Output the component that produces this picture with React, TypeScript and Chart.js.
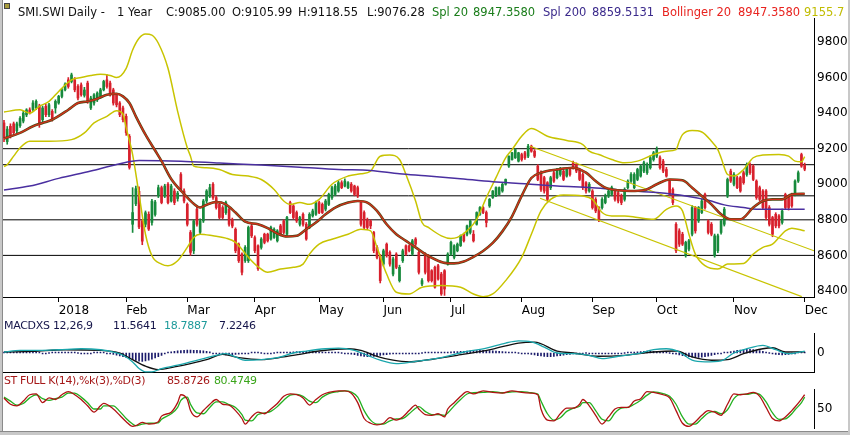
import React, { useEffect, useRef } from "react";
import Chart from "chart.js/auto";

const FONT = '"DejaVu Sans", "Noto Sans", sans-serif';
Chart.defaults.font.family = FONT;
Chart.defaults.font.size = 12;
Chart.defaults.color = "#000";

// bar index range shown on every panel (Dec 2017 .. 3 Dec 2018)
const X_MIN = -0.31;
const X_MAX = 251.9;

const GREEN = "#178a3c";
const RED = "#d8202c";
const YELLOW = "#c8c400";

// ---- daily candles ----
const opens = [
  9345, 9240, 9326, 9340, 9300, 9330, 9355, 9390, 9418, 9420,
  9430, 9440, 9363, 9438, 9391, 9410, 9429, 9457, 9494, 9531,
  9587, 9578, 9587, 9550, 9559, 9500, 9569, 9429, 9457, 9475,
  9494, 9531, 9587, 9569, 9531, 9503, 9457, 9429, 9382, 9270,
  8775, 8890, 8960, 8794, 8775, 8831, 8785, 8830, 8935, 8981,
  8934, 9000, 8906, 8962, 8920, 9055, 8962, 8887, 8729, 8626,
  8860, 8730, 8794, 8906, 8934, 9000, 8925, 8887, 8869, 8840,
  8860, 8800, 8747, 8663, 8607, 8570, 8570, 8766, 8700, 8654,
  8645, 8719, 8719, 8692, 8701, 8682, 8766, 8794, 8719, 8897,
  8878, 8841, 8775, 8831, 8775, 8757, 8822, 8831, 8897, 8887,
  8860, 8887, 8925, 8943, 8962, 9009, 8990, 8981, 9000, 8990,
  8981, 8897, 8841, 8800, 8794, 8729, 8645, 8598, 8551, 8663,
  8617, 8495, 8607, 8458, 8570, 8654, 8654, 8607, 8692, 8617,
  8439, 8607, 8598, 8514, 8533, 8542, 8495, 8514, 8551, 8607,
  8589, 8626, 8655, 8719, 8719, 8729, 8719, 8775, 8831, 8869,
  8841, 8878, 8925, 8934, 8943, 8962, 9000, 9102, 9139, 9149,
  9130, 9167, 9177, 9158, 9214, 9186, 9102, 9065, 9037, 9009,
  8981, 9065, 9037, 9055, 9074, 9046, 9083, 9121, 9111, 9083,
  9055, 9009, 8962, 8962, 8915, 8869, 8869, 8897, 8934, 8943,
  8962, 8953, 8934, 8915, 8981, 9018, 8981, 9027, 9046, 9074,
  9065, 9093, 9139, 9158, 9149, 9130, 9083, 9018, 8971, 8775,
  8738, 8719, 8598, 8635, 8719, 8869, 8794, 8841, 8943, 8794,
  8775, 8598, 8626, 8729, 8775, 8934, 9074, 9000, 9037, 9037,
  9065, 9055, 9111, 9102, 9018, 8981, 8962, 8962, 8869, 8813,
  8831, 8822, 8785, 8943, 8934, 8943, 8943, 9018, 9167, 9106,
];
const highs = [
  9360, 9325, 9340, 9350, 9350, 9380, 9410, 9425, 9430, 9470,
  9475, 9450, 9440, 9450, 9455, 9420, 9475, 9500, 9540, 9570,
  9600, 9625, 9600, 9560, 9570, 9545, 9580, 9495, 9510, 9520,
  9540, 9585, 9617, 9580, 9540, 9510, 9465, 9440, 9395, 9280,
  8981, 8990, 8985, 8800, 8850, 8845, 8915, 8910, 8995, 8990,
  9000, 9010, 9000, 8975, 8960, 9065, 8975, 8895, 8740, 8800,
  8870, 8805, 8915, 8970, 9000, 9010, 8935, 8895, 8880, 8905,
  8870, 8810, 8755, 8670, 8615, 8655, 8765, 8775, 8710, 8660,
  8700, 8725, 8725, 8765, 8755, 8745, 8775, 8800, 8820, 8905,
  8885, 8850, 8820, 8840, 8785, 8840, 8860, 8905, 8905, 8895,
  8915, 8950, 8990, 9000, 9020, 9020, 9030, 9015, 9010, 8995,
  8990, 8905, 8850, 8810, 8800, 8735, 8655, 8605, 8635, 8670,
  8625, 8590, 8615, 8545, 8635, 8660, 8660, 8690, 8700, 8625,
  8470, 8615, 8605, 8520, 8540, 8550, 8505, 8520, 8615, 8680,
  8660, 8670, 8715, 8725, 8770, 8800, 8740, 8845, 8875, 8875,
  8850, 8920, 8965, 8985, 8985, 9005, 9030, 9160, 9180, 9200,
  9180, 9175, 9185, 9225, 9220, 9195, 9110, 9075, 9045, 9015,
  9045, 9075, 9090, 9095, 9085, 9090, 9095, 9130, 9120, 9090,
  9065, 9015, 9010, 8970, 8925, 8875, 8925, 8945, 8970, 8990,
  8970, 8960, 8945, 8980, 9025, 9065, 9065, 9090, 9110, 9130,
  9120, 9160, 9185, 9210, 9160, 9140, 9095, 9025, 8980, 8785,
  8750, 8730, 8680, 8690, 8880, 8875, 8875, 8915, 8950, 8800,
  8785, 8720, 8720, 8800, 8870, 9035, 9085, 9065, 9045, 9045,
  9075, 9120, 9120, 9110, 9025, 8990, 8970, 8970, 8880, 8820,
  8840, 8830, 8860, 8950, 8940, 8950, 9025, 9075, 9175, 9119,
];
const lows = [
  9240, 9225, 9260, 9280, 9290, 9320, 9345, 9380, 9395, 9410,
  9420, 9320, 9350, 9380, 9380, 9355, 9400, 9450, 9485, 9525,
  9540, 9570, 9520, 9475, 9495, 9490, 9455, 9420, 9445, 9465,
  9485, 9525, 9540, 9495, 9445, 9435, 9380, 9350, 9275, 9085,
  8729, 8880, 8750, 8660, 8760, 8740, 8770, 8820, 8925, 8890,
  8925, 8890, 8900, 8885, 8905, 8960, 8895, 8765, 8600, 8610,
  8765, 8720, 8785, 8895, 8925, 8915, 8860, 8805, 8805, 8830,
  8765, 8755, 8615, 8560, 8490, 8560, 8560, 8700, 8615, 8515,
  8635, 8665, 8675, 8685, 8695, 8675, 8710, 8720, 8710, 8835,
  8805, 8785, 8765, 8765, 8685, 8750, 8815, 8825, 8835, 8835,
  8850, 8880, 8915, 8935, 8955, 8975, 8985, 8975, 8955, 8935,
  8925, 8765, 8750, 8745, 8750, 8615, 8580, 8445, 8540, 8590,
  8540, 8485, 8525, 8450, 8560, 8600, 8620, 8600, 8655, 8495,
  8430, 8495, 8450, 8450, 8415, 8460, 8375, 8375, 8545, 8600,
  8580, 8620, 8650, 8675, 8710, 8720, 8675, 8770, 8825, 8835,
  8760, 8870, 8920, 8930, 8940, 8955, 8995, 9095, 9135, 9145,
  9125, 9130, 9140, 9150, 9180, 9150, 9020, 8960, 8950, 8905,
  8970, 9010, 9030, 9045, 9020, 9040, 9045, 9085, 9065, 9020,
  8970, 8950, 8955, 8860, 8840, 8790, 8860, 8890, 8925, 8935,
  8905, 8895, 8885, 8905, 8975, 9010, 8975, 9020, 9040, 9065,
  9055, 9085, 9130, 9150, 9085, 9065, 9040, 8935, 8885, 8615,
  8650, 8655, 8590, 8625, 8710, 8725, 8785, 8835, 8860, 8720,
  8710, 8590, 8615, 8720, 8765, 8925, 9010, 8990, 8975, 8955,
  9000, 9045, 9055, 9020, 8915, 8905, 8860, 8800, 8765, 8705,
  8755, 8755, 8775, 8860, 8855, 8870, 8935, 9010, 9095, 9076,
];
const closes = [
  9261, 9310, 9270, 9290, 9340, 9370, 9400, 9418, 9405, 9457,
  9466, 9335, 9429, 9391, 9447, 9363, 9466, 9494, 9531, 9563,
  9550, 9615, 9531, 9485, 9503, 9530, 9466, 9485, 9503, 9513,
  9531, 9578, 9550, 9503, 9457, 9447, 9391, 9363, 9289, 9095,
  8841, 8975, 8760, 8680, 8840, 8748, 8905, 8900, 8981, 8897,
  8990, 8897, 8990, 8897, 8950, 8971, 8906, 8775, 8617, 8794,
  8775, 8794, 8906, 8962, 8981, 8925, 8869, 8813, 8813, 8897,
  8775, 8765, 8626, 8570, 8505, 8645, 8757, 8710, 8626, 8525,
  8692, 8673, 8682, 8757, 8747, 8738, 8719, 8729, 8813, 8841,
  8813, 8794, 8813, 8775, 8692, 8831, 8850, 8897, 8841, 8841,
  8906, 8943, 8981, 8990, 9009, 8981, 9018, 9009, 8962, 8943,
  8934, 8775, 8757, 8757, 8766, 8626, 8589, 8458, 8626, 8598,
  8551, 8580, 8533, 8533, 8626, 8607, 8626, 8682, 8663, 8505,
  8458, 8505, 8458, 8458, 8421, 8467, 8383, 8411, 8607, 8673,
  8654, 8663, 8710, 8682, 8766, 8794, 8682, 8841, 8869, 8841,
  8785, 8915, 8962, 8981, 8981, 9000, 9027, 9158, 9177, 9195,
  9177, 9139, 9149, 9214, 9186, 9158, 9027, 8971, 8962, 8915,
  9037, 9018, 9083, 9083, 9027, 9083, 9055, 9093, 9074, 9027,
  8981, 8962, 9000, 8869, 8850, 8803, 8915, 8934, 8962, 8981,
  8915, 8906, 8897, 8971, 9018, 9055, 9055, 9083, 9102, 9121,
  9111, 9149, 9177, 9195, 9093, 9074, 9046, 8943, 8897, 8626,
  8663, 8663, 8673, 8682, 8869, 8738, 8869, 8906, 8869, 8729,
  8719, 8710, 8710, 8794, 8860, 9027, 9018, 9055, 8981, 8962,
  9009, 9111, 9065, 9027, 8925, 8915, 8869, 8813, 8775, 8719,
  8766, 8766, 8850, 8869, 8869, 8878, 9018, 9065, 9102, 9085,
];

// ---- axis ticks ----
const monthTickIdx = [17, 38, 57, 78, 98, 118, 139, 161, 183, 203, 227, 249];
const monthLabels = ["2018", "Feb", "Mar", "Apr", "May", "Jun", "Jul", "Aug", "Sep", "Oct", "Nov", "Dec"];
const priceTicks = [8400, 8600, 8800, 9000, 9200, 9400, 9600, 9800];
const macdTicks = [0];
const stochTicks = [50];

// ---- drawn support / resistance lines and the down channel ----
const levelLines = [9200, 9110, 8935, 8800, 8600];
const channelUpper = [
  { x: 163.6, y: 9214 },
  { x: 251.9, y: 8626 },
];
const channelLower = [
  { x: 166.7, y: 8921 },
  { x: 248.1, y: 8368 },
];

// ---- overlays ----
const sma20Idx = [0, 5, 9, 12, 15, 20, 23, 26, 29, 32, 35, 37, 39, 41, 44, 47, 49, 52, 56, 59, 61, 63, 66, 69, 72, 75, 79, 82, 85, 88, 91, 94, 97, 100, 103, 107, 110, 113, 116, 119, 122, 125, 128, 131, 134, 137, 140, 143, 146, 149, 152, 155, 158, 161, 164, 167, 172, 177, 181, 184, 187, 191, 195, 199, 203, 207, 211, 214, 217, 220, 223, 226, 229, 233, 236, 239, 242, 245, 249];
const sma20Val = [9257, 9289, 9326, 9345, 9363, 9419, 9457, 9466, 9481, 9503, 9509, 9494, 9457, 9382, 9279, 9190, 9130, 9030, 8945, 8890, 8869, 8885, 8900, 8887, 8841, 8790, 8775, 8753, 8723, 8706, 8710, 8747, 8785, 8831, 8869, 8897, 8906, 8897, 8850, 8775, 8719, 8682, 8645, 8607, 8578, 8558, 8555, 8566, 8592, 8625, 8670, 8735, 8820, 8935, 9035, 9065, 9083, 9093, 9065, 9018, 8981, 8966, 8962, 8966, 9000, 9027, 9022, 8981, 8934, 8887, 8831, 8803, 8803, 8869, 8906, 8915, 8915, 8943, 8947];

const bbUpIdx = [0, 5, 8, 11, 14, 17, 21, 24, 27, 30, 33, 35, 38, 40, 42, 44, 46, 48, 51, 54, 57, 58, 59, 63, 67, 71, 76, 80, 84, 87, 89, 92, 95, 98, 102, 107, 111, 114, 117, 120, 123, 125, 128, 130, 132, 136, 139, 141, 144, 147, 150, 153, 156, 158, 161, 164, 169, 175, 180, 182, 185, 189, 193, 197, 202, 206, 209, 210, 211, 214, 217, 220, 222, 223, 225, 227, 230, 233, 236, 241, 244, 246, 248, 249];
const bbUpVal = [9406, 9419, 9400, 9438, 9466, 9522, 9587, 9600, 9612, 9619, 9612, 9600, 9652, 9755, 9821, 9845, 9839, 9793, 9652, 9410, 9205, 9158, 9102, 9093, 9083, 9055, 9046, 9027, 8971, 8906, 8887, 8897, 8887, 8915, 9000, 9046, 9059, 9074, 9158, 9164, 9139, 9055, 8906, 8785, 8757, 8710, 8695, 8701, 8738, 8803, 8925, 9037, 9149, 9195, 9270, 9313, 9270, 9246, 9223, 9186, 9167, 9139, 9121, 9130, 9167, 9186, 9195, 9242, 9279, 9302, 9294, 9242, 9195, 9149, 9055, 9046, 9083, 9149, 9164, 9167, 9158, 9130, 9126, 9156];

const bbLoIdx = [0, 1, 3, 5, 8, 14, 21, 25, 28, 32, 35, 37, 38, 40, 42, 44, 46, 49, 51, 54, 57, 59, 61, 65, 69, 72, 76, 79, 82, 86, 90, 93, 95, 98, 102, 107, 111, 114, 116, 119, 122, 126, 130, 136, 142, 146, 149, 152, 156, 161, 164, 167, 170, 174, 180, 183, 186, 189, 193, 197, 202, 206, 209, 211, 213, 215, 218, 222, 225, 230, 233, 236, 239, 241, 243, 245, 249];
const bbLoVal = [9100, 9110, 9158, 9205, 9242, 9242, 9251, 9289, 9345, 9382, 9414, 9395, 9317, 9167, 8943, 8719, 8598, 8551, 8542, 8570, 8645, 8701, 8719, 8710, 8697, 8673, 8589, 8536, 8505, 8523, 8533, 8551, 8607, 8663, 8691, 8719, 8747, 8738, 8645, 8495, 8393, 8383, 8421, 8430, 8421, 8383, 8368, 8383, 8458, 8589, 8719, 8850, 8915, 8940, 8934, 8915, 8841, 8822, 8822, 8813, 8803, 8859, 8878, 8850, 8719, 8607, 8542, 8523, 8551, 8555, 8607, 8645, 8663, 8701, 8738, 8753, 8738];

const sma200Idx = [0, 8, 17, 27, 35, 42, 55, 67, 80, 92, 104, 114, 123, 131, 141, 152, 162, 172, 183, 193, 203, 212, 219, 224, 230, 234, 240, 249];
const sma200Val = [8968, 8990, 9033, 9074, 9111, 9134, 9130, 9119, 9108, 9096, 9083, 9078, 9059, 9048, 9033, 9014, 9003, 8990, 8981, 8966, 8953, 8934, 8910, 8884, 8869, 8859, 8859, 8859];

// ---- MACD 12,26,9 (panel units) ----
const macdIdx = [0, 5, 11, 17, 24, 30, 34, 37, 40, 42, 44, 46, 49, 54, 58, 62, 66, 69, 72, 75, 80, 85, 90, 94, 100, 104, 109, 113, 117, 122, 127, 131, 137, 143, 150, 156, 160, 164, 168, 172, 177, 182, 186, 191, 197, 202, 206, 210, 214, 218, 223, 227, 231, 236, 240, 244, 249];
const macdVal = [10, 27, 27, 33, 43, 33, 10, -23, -90, -157, -190, -190, -157, -123, -90, -57, -23, -7, -40, -73, -67, -47, 0, 20, 43, 50, 27, -23, -73, -107, -90, -73, -40, 10, 50, 100, 122, 112, 60, 0, -7, -23, -57, -33, -7, 33, 43, 10, -73, -90, -80, 0, 43, 77, 33, -7, 19];
const signalIdx = [0, 9, 19, 30, 36, 40, 44, 48, 53, 58, 63, 68, 73, 80, 87, 92, 98, 107, 111, 116, 121, 126, 131, 141, 152, 160, 165, 172, 177, 185, 193, 202, 209, 214, 220, 225, 230, 236, 239, 243, 249];
const signalVal = [10, 17, 33, 27, 0, -67, -133, -167, -140, -107, -67, -13, -47, -67, -40, -13, 20, 43, 27, -33, -73, -90, -73, -23, 40, 100, 110, 20, 0, -33, -23, 10, 20, -40, -73, -67, -7, 43, 53, 10, 12];
const macdHist = [
  5, 8, 6, 4, 3, 5, 7, 9, 8, 6, 4,
  2, -2, -3, 0, 3, 6, 8, 10, 9, 7,
  5, 3, 0, -3, -5, -4, -2, 2, 4, 5, 3, -2, -8,
  -15, -22, -30, -38, -45, -55, -65, -75, -82, -85, -80, -72, -62, -50, -38, -25,
  -10, 5, 12, 18, 22, 25, 28, 30, 30, 28, 26, 25, 22, 18, 12,
  -5, -10, -14, -18, -20, -20, -18, -15, -12, -9, -6, -3,
  2, 3, 2, 0, -2, -3, -2, 0, 2, 4, 6, 8, 10,
  12, 14, 15, 16, 16, 15, 14, 12, 10, 8, 6,
  5, 4, 3, 2, 0, -3, -6,
  -12, -18, -24, -30, -35, -38, -38, -35, -30, -25, -20,
  -16, -12, -10, -8, -6, -5, -4, -3, -2, -2, -1, 0, 2,
  3, 4, 5, 5, 6, 8, 10, 12, 14, 15, 16, 18, 20, 22,
  24, 25, 26, 26, 25, 24, 22, 20, 18, 15, 12, 8,
  5, 2, 0, -3, -6, -10, -14,
  -20, -26, -30, -34, -36, -36, -34, -30, -26, -22, -18, -14, -10,
  -7, -4, -2, 0, -2, -4, -6, -8, -10,
  -10, -9, -8, -6, -4, -2, 0, 3, 6, 9, 12,
  15, 18, 20, 20, 18, 15, 12, 8, 4, 0, -5,
  -12, -20, -28, -34, -38, -42, -45, -45, -42, -38, -32, -25, -18, -10,
  -4, 2, 8, 14,
  20, 26, 30, 34, 36, 36, 34, 30, 24, 16, 8, 0,
  -8, -14, -18, -20, -18, -14, -10,
  -4, 2, 5, 7,
];

// ---- stochastic full 14,3,3 ----
const stochIdx = [0, 2, 4, 6, 8, 10, 12, 14, 16, 18, 20, 22, 24, 26, 28, 30, 31, 34, 36, 38, 40, 41, 43, 45, 48, 49, 52, 54, 55, 57, 58, 60, 62, 64, 66, 68, 70, 72, 74, 75, 77, 79, 81, 83, 85, 87, 89, 91, 93, 95, 97, 99, 101, 104, 106, 108, 110, 112, 114, 116, 118, 120, 122, 124, 126, 128, 129, 131, 133, 135, 137, 138, 140, 142, 144, 146, 149, 152, 155, 158, 161, 164, 166, 167, 169, 171, 173, 175, 177, 179, 180, 182, 184, 186, 188, 190, 192, 194, 196, 198, 200, 202, 205, 207, 209, 211, 213, 215, 217, 219, 221, 223, 225, 227, 229, 231, 233, 235, 237, 239, 241, 243, 245, 246, 248, 249];
const stochK = [78, 62, 58, 70, 86, 88, 66, 78, 74, 86, 94, 86, 74, 58, 42, 58, 64, 50, 34, 18, 6, 8, 16, 12, 18, 32, 42, 66, 86, 74, 46, 30, 46, 62, 74, 62, 60, 46, 26, 12, 30, 42, 38, 50, 64, 82, 88, 86, 78, 60, 74, 86, 92, 96, 96, 90, 66, 26, 14, 10, 14, 28, 22, 30, 46, 60, 50, 36, 34, 38, 30, 50, 66, 82, 94, 88, 96, 92, 90, 96, 92, 90, 86, 50, 22, 20, 38, 52, 52, 62, 74, 58, 34, 12, 30, 50, 54, 54, 70, 76, 94, 92, 86, 78, 46, 14, 6, 18, 34, 46, 42, 34, 62, 88, 86, 88, 92, 82, 54, 26, 20, 30, 46, 55, 75, 86];
const stochD = [80, 70, 60, 64, 78, 86, 76, 72, 76, 80, 90, 90, 80, 66, 50, 50, 58, 58, 44, 26, 12, 8, 12, 14, 15, 24, 38, 54, 72, 80, 62, 40, 38, 54, 68, 68, 61, 54, 36, 22, 20, 36, 40, 44, 56, 72, 85, 87, 82, 70, 66, 80, 89, 94, 96, 93, 80, 46, 22, 12, 12, 20, 25, 26, 38, 52, 56, 44, 36, 36, 34, 40, 58, 74, 88, 91, 92, 94, 91, 93, 94, 91, 88, 70, 38, 22, 28, 44, 52, 57, 66, 66, 46, 24, 20, 40, 52, 54, 62, 72, 85, 93, 89, 82, 62, 30, 12, 12, 26, 40, 44, 38, 48, 76, 87, 87, 90, 87, 68, 40, 24, 25, 38, 48, 66, 80];

// ---- header texts ----
const headerParts: [string, number, string][] = [
  ["SMI.SWI Daily -", 18, "#111"],
  ["1 Year", 117, "#111"],
  ["C:9085.00", 166, "#111"],
  ["O:9105.99", 232, "#111"],
  ["H:9118.55", 298, "#111"],
  ["L:9076.28", 367, "#111"],
  ["Spl 20", 432, "#1a7d1a"],
  ["8947.3580", 473, "#1a7d1a"],
  ["Spl 200", 543, "#3b2a8c"],
  ["8859.5131", 592, "#3b2a8c"],
  ["Bollinger 20", 662, "#e8231f"],
  ["8947.3580", 738, "#e8231f"],
  ["9155.7", 804, "#c0bc00"],
];
const macdParts: [string, number, string][] = [
  ["MACDXS 12,26,9", 4, "#15154a"],
  ["11.5641", 113, "#15154a"],
  ["18.7887", 164, "#1d9a9a"],
  ["7.2246", 219, "#15154a"],
];
const stochParts: [string, number, string][] = [
  ["ST FULL K(14),%k(3),%D(3)", 4, "#a51818"],
  ["85.8726", 167, "#a51818"],
  ["80.4749", 214, "#3aa51a"],
];

const pts = (idx: number[], val: number[]) => idx.map((x, k) => ({ x, y: val[k] }));

const line = (data: any[], color: string, width: number, order: number, smooth = true) => ({
  type: "line",
  data,
  borderColor: color,
  borderWidth: width,
  pointRadius: 0,
  pointHoverRadius: 0,
  fill: false,
  tension: 0,
  cubicInterpolationMode: smooth ? "monotone" : "default",
  order,
});

const fixedTicks = (values: number[]) => (axis: any) => {
  axis.ticks = values.map((v) => ({ value: v }));
};

const rightAxis = (min: number, max: number, ticks: number[]) => ({
  type: "linear",
  position: "right",
  min,
  max,
  grid: { display: false, drawTicks: false },
  border: { display: true, color: "#000", width: 1 },
  ticks: { padding: 3, color: "#000", font: { size: 12 }, callback: (v: any) => String(v) },
  afterBuildTicks: fixedTicks(ticks),
  afterFit: (axis: any) => {
    axis.width = 36;
  },
});

const baseOptions = (padTop: number, padBottom: number) => ({
  responsive: false,
  animation: false,
  events: [],
  layout: { padding: { top: padTop, left: 3, right: 0, bottom: padBottom } },
  plugins: { legend: { display: false }, tooltip: { enabled: false }, title: { display: false } },
});

function buildMain(): any {
  const idx = closes.map((_, i) => i);
  const colors = idx.map((i) => (closes[i] >= opens[i] ? GREEN : RED));
  return {
    type: "bar",
    data: {
      datasets: [
        ...levelLines.map((v) =>
          line([{ x: X_MIN, y: v }, { x: X_MAX, y: v }], "#000", 1, 10, false)
        ),
        {
          type: "bar",
          data: idx.map((i) => ({ x: i, y: [lows[i], highs[i]] })),
          backgroundColor: colors,
          barThickness: 1,
          grouped: false,
          order: 6,
        },
        {
          type: "bar",
          data: idx.map((i) => ({ x: i, y: [opens[i], closes[i]] })),
          backgroundColor: colors,
          barThickness: 2,
          minBarLength: 1,
          grouped: false,
          order: 5,
        },
        line(channelUpper, YELLOW, 1.2, 4, false),
        line(channelLower, YELLOW, 1.2, 4, false),
        line(pts(sma200Idx, sma200Val), "#4a2fa0", 1.5, 3),
        line(pts(bbUpIdx, bbUpVal), YELLOW, 1.5, 3),
        line(pts(bbLoIdx, bbLoVal), YELLOW, 1.5, 3),
        line(pts(sma20Idx, sma20Val), "#4a4a14", 2.6, 2),
        line(pts(sma20Idx, sma20Val), "#d0301c", 1.4, 1),
      ],
    },
    options: {
      ...baseOptions(18, 0),
      scales: {
        x: {
          type: "linear",
          min: X_MIN,
          max: X_MAX,
          offset: false,
          grid: { display: true, drawOnChartArea: false, drawTicks: true, tickLength: 5, color: "#000", offset: false },
          border: { display: true, color: "#000", width: 1 },
          ticks: {
            autoSkip: false,
            maxRotation: 0,
            align: "start",
            padding: 2,
            color: "#000",
            font: { size: 12 },
            callback: (_v: any, i: number) => monthLabels[i],
          },
          afterBuildTicks: fixedTicks(monthTickIdx),
          afterFit: (axis: any) => {
            axis.height = 23;
          },
        },
        y: rightAxis(8366, 9935, priceTicks),
      },
    },
  };
}

function buildMacd(): any {
  return {
    type: "bar",
    data: {
      datasets: [
        {
          type: "bar",
          data: macdHist.map((v, i) => ({ x: i, y: v })),
          backgroundColor: "#1c1c6c",
          barThickness: 1,
          minBarLength: 1,
          grouped: false,
          order: 5,
        },
        line(pts(signalIdx, signalVal), "#111", 1.3, 2),
        line(pts(macdIdx, macdVal), "#1aa6ac", 1.3, 1),
      ],
    },
    options: {
      ...baseOptions(10, 8),
      scales: {
        x: {
          type: "linear",
          min: X_MIN,
          max: X_MAX,
          offset: false,
          grid: { display: false },
          border: { display: true, color: "#000", width: 1 },
          ticks: { display: false },
          afterFit: (axis: any) => {
            axis.height = 2;
          },
        },
        y: rightAxis(-200, 200, macdTicks),
      },
    },
  };
}

function buildStoch(): any {
  return {
    type: "line",
    data: {
      datasets: [
        line(pts(stochIdx, stochD), "#22b020", 1.3, 2),
        line(pts(stochIdx, stochK), "#b01212", 1.3, 1),
      ],
    },
    options: {
      ...baseOptions(10, 8),
      scales: {
        x: { type: "linear", min: X_MIN, max: X_MAX, display: false },
        y: rightAxis(0, 100, stochTicks),
      },
    },
  };
}

function Panel({ top, height, build }: { top: number; height: number; build: () => any }) {
  const ref = useRef<HTMLCanvasElement>(null);
  useEffect(() => {
    if (!ref.current) return;
    const chart = new Chart(ref.current, build());
    return () => chart.destroy();
  }, [build]);
  return (
    <canvas
      ref={ref}
      width={850}
      height={height}
      style={{ position: "absolute", left: 0, top, width: 850, height }}
    />
  );
}

function TextRow({ parts, top, size, spacing = 0 }: { parts: [string, number, string][]; top: number; size: number; spacing?: number }) {
  return (
    <>
      {parts.map(([text, x, color]) => (
        <span
          key={text + x}
          style={{
            position: "absolute",
            left: x,
            top,
            color,
            font: `${size}px ${FONT}`,
            letterSpacing: spacing,
            lineHeight: "14px",
            whiteSpace: "pre",
            zIndex: 2,
          }}
        >
          {text}
        </span>
      ))}
    </>
  );
}

export default function App() {
  return (
    <div
      style={{
        position: "absolute",
        left: 0,
        top: 0,
        width: 850,
        height: 435,
        background: "#fff",
        overflow: "hidden",
      }}
    >
      <Panel top={0} height={320} build={buildMain} />
      <Panel top={323} height={60} build={buildMacd} />
      <Panel top={379} height={60} build={buildStoch} />
      <TextRow parts={headerParts} top={5} size={11.5} />
      <TextRow parts={macdParts} top={319} size={11} spacing={-0.3} />
      <TextRow parts={stochParts} top={374} size={11} spacing={-0.4} />
      <div style={{ position: "absolute", left: 0, top: 0, width: 2, height: 435, background: "#c8c8c8", borderRight: "1px solid #8a8a8a", zIndex: 3 }} />
      <div style={{ position: "absolute", left: 0, top: 431, width: 850, height: 3, background: "#c8c8c8", borderTop: "1px solid #8a8a8a", zIndex: 3 }} />
      <div style={{ position: "absolute", left: 848, top: 0, width: 2, height: 435, background: "#c8c8c8", zIndex: 3 }} />
      <div style={{ position: "absolute", left: 4, top: 3, width: 4, height: 4, background: "#a89c3c", border: "1px solid #444", zIndex: 3 }} />
    </div>
  );
}
